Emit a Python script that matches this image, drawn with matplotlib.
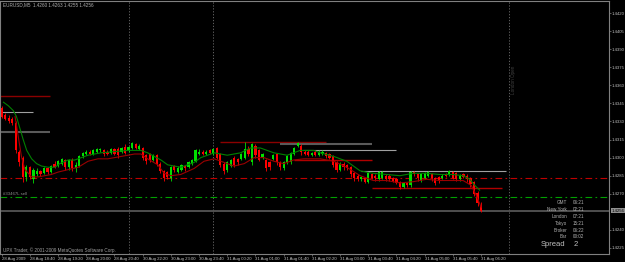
import matplotlib
matplotlib.use("Agg")
import matplotlib.pyplot as plt

plt.rcParams["font.family"] = ["Liberation Sans", "DejaVu Sans"]

# --- EURUSD M5 candles (bar 0 = 28 Aug 18:00) ---
opens = [1.4341, 1.4335, 1.4333, 1.4332, 1.4329, 1.4305, 1.4300, 1.4284, 1.4292, 1.4282,
         1.4286, 1.4289, 1.4287, 1.4291, 1.4288, 1.4295, 1.4293, 1.4295, 1.4298, 1.4292,
         1.4298, 1.4291, 1.4293, 1.4301, 1.4303, 1.4305, 1.4303, 1.4305, 1.4306, 1.4306,
         1.4305, 1.4304, 1.4307, 1.4307, 1.4305, 1.4309, 1.4306, 1.4308, 1.4311, 1.4307,
         1.4308, 1.4302, 1.4303, 1.4298, 1.4302, 1.4295, 1.4289, 1.4288, 1.4283, 1.4293,
         1.4288, 1.4290, 1.4293, 1.4292, 1.4295, 1.4297, 1.4303, 1.4305, 1.4303, 1.4306,
         1.4303, 1.4308, 1.4303, 1.4295, 1.4290, 1.4293, 1.4300, 1.4299, 1.4299, 1.4300,
         1.4307, 1.4296, 1.4310, 1.4306, 1.4300, 1.4298, 1.4296, 1.4299, 1.4303, 1.4296,
         1.4291, 1.4296, 1.4296, 1.4303, 1.4310, 1.4310, 1.4305, 1.4305, 1.4302, 1.4305,
         1.4302, 1.4303, 1.4304, 1.4303, 1.4301, 1.4296, 1.4290, 1.4295, 1.4294, 1.4292,
         1.4287, 1.4285, 1.4282, 1.4283, 1.4280, 1.4286, 1.4285, 1.4282, 1.4283, 1.4285,
         1.4285, 1.4283, 1.4282, 1.4280, 1.4276, 1.4279, 1.4277, 1.4288, 1.4286, 1.4281,
         1.4283, 1.4285, 1.4286, 1.4283, 1.4284, 1.4283, 1.4286, 1.4286, 1.4288, 1.4287,
         1.4282, 1.4286, 1.4285, 1.4283, 1.4280, 1.4271, 1.4260]
highs = [1.4343, 1.4337, 1.4335, 1.4334, 1.4330, 1.4306, 1.4301, 1.4294, 1.4293, 1.4291,
         1.4291, 1.4290, 1.4292, 1.4292, 1.4294, 1.4297, 1.4298, 1.4300, 1.4299, 1.4299,
         1.4300, 1.4296, 1.4302, 1.4305, 1.4306, 1.4306, 1.4307, 1.4308, 1.4308, 1.4307,
         1.4306, 1.4308, 1.4308, 1.4309, 1.4309, 1.4311, 1.4310, 1.4313, 1.4312, 1.4311,
         1.4309, 1.4303, 1.4304, 1.4303, 1.4303, 1.4296, 1.4290, 1.4289, 1.4293, 1.4294,
         1.4293, 1.4295, 1.4294, 1.4297, 1.4299, 1.4307, 1.4307, 1.4306, 1.4306, 1.4307,
         1.4308, 1.4309, 1.4304, 1.4296, 1.4297, 1.4299, 1.4301, 1.4300, 1.4304, 1.4313,
         1.4310, 1.4312, 1.4311, 1.4307, 1.4304, 1.4299, 1.4297, 1.4303, 1.4304, 1.4297,
         1.4297, 1.4302, 1.4305, 1.4309, 1.4313, 1.4311, 1.4306, 1.4306, 1.4305, 1.4306,
         1.4306, 1.4306, 1.4305, 1.4304, 1.4302, 1.4297, 1.4296, 1.4296, 1.4295, 1.4293,
         1.4288, 1.4286, 1.4285, 1.4284, 1.4288, 1.4287, 1.4286, 1.4289, 1.4289, 1.4286,
         1.4286, 1.4284, 1.4283, 1.4281, 1.4280, 1.4280, 1.4289, 1.4289, 1.4287, 1.4287,
         1.4288, 1.4289, 1.4287, 1.4284, 1.4285, 1.4286, 1.4287, 1.4290, 1.4289, 1.4288,
         1.4286, 1.4287, 1.4286, 1.4284, 1.4281, 1.4272, 1.4263]
lows = [1.4333, 1.4331, 1.4329, 1.4327, 1.4304, 1.4293, 1.4280, 1.4281, 1.4282, 1.4279,
        1.4285, 1.4285, 1.4286, 1.4286, 1.4287, 1.4291, 1.4292, 1.4294, 1.4290, 1.4290,
        1.4289, 1.4288, 1.4292, 1.4300, 1.4302, 1.4302, 1.4302, 1.4304, 1.4305, 1.4301,
        1.4302, 1.4303, 1.4302, 1.4300, 1.4304, 1.4303, 1.4305, 1.4307, 1.4307, 1.4306,
        1.4298, 1.4295, 1.4296, 1.4297, 1.4293, 1.4287, 1.4281, 1.4282, 1.4281, 1.4288,
        1.4287, 1.4289, 1.4289, 1.4291, 1.4294, 1.4296, 1.4302, 1.4302, 1.4302, 1.4303,
        1.4302, 1.4299, 1.4292, 1.4286, 1.4288, 1.4292, 1.4292, 1.4294, 1.4298, 1.4299,
        1.4301, 1.4294, 1.4300, 1.4297, 1.4299, 1.4289, 1.4290, 1.4298, 1.4294, 1.4290,
        1.4290, 1.4295, 1.4295, 1.4302, 1.4309, 1.4302, 1.4302, 1.4301, 1.4301, 1.4301,
        1.4301, 1.4302, 1.4300, 1.4299, 1.4292, 1.4288, 1.4289, 1.4290, 1.4290, 1.4284,
        1.4281, 1.4281, 1.4281, 1.4279, 1.4279, 1.4282, 1.4281, 1.4281, 1.4282, 1.4281,
        1.4281, 1.4280, 1.4278, 1.4274, 1.4275, 1.4276, 1.4276, 1.4285, 1.4281, 1.4280,
        1.4282, 1.4284, 1.4281, 1.4277, 1.4279, 1.4282, 1.4284, 1.4285, 1.4282, 1.4281,
        1.4281, 1.4283, 1.4280, 1.4276, 1.4268, 1.4260, 1.4255]
closes = [1.4334, 1.4332, 1.4330, 1.4329, 1.4306, 1.4296, 1.4284, 1.4292, 1.4284, 1.4290,
          1.4289, 1.4286, 1.4291, 1.4288, 1.4293, 1.4292, 1.4297, 1.4299, 1.4292, 1.4298,
          1.4291, 1.4294, 1.4301, 1.4304, 1.4305, 1.4303, 1.4306, 1.4307, 1.4307, 1.4303,
          1.4303, 1.4307, 1.4303, 1.4302, 1.4308, 1.4304, 1.4309, 1.4312, 1.4308, 1.4310,
          1.4300, 1.4297, 1.4298, 1.4302, 1.4295, 1.4289, 1.4283, 1.4284, 1.4292, 1.4290,
          1.4291, 1.4294, 1.4291, 1.4296, 1.4298, 1.4306, 1.4305, 1.4303, 1.4305, 1.4304,
          1.4307, 1.4300, 1.4294, 1.4289, 1.4296, 1.4298, 1.4294, 1.4296, 1.4303, 1.4307,
          1.4303, 1.4311, 1.4302, 1.4298, 1.4303, 1.4291, 1.4292, 1.4302, 1.4296, 1.4292,
          1.4296, 1.4301, 1.4304, 1.4308, 1.4312, 1.4305, 1.4303, 1.4302, 1.4304, 1.4302,
          1.4305, 1.4305, 1.4301, 1.4300, 1.4294, 1.4290, 1.4295, 1.4292, 1.4291, 1.4286,
          1.4283, 1.4282, 1.4284, 1.4280, 1.4287, 1.4283, 1.4283, 1.4288, 1.4288, 1.4282,
          1.4282, 1.4281, 1.4279, 1.4276, 1.4279, 1.4277, 1.4288, 1.4286, 1.4283, 1.4286,
          1.4287, 1.4288, 1.4283, 1.4279, 1.4281, 1.4285, 1.4285, 1.4289, 1.4283, 1.4282,
          1.4285, 1.4284, 1.4282, 1.4278, 1.4270, 1.4262, 1.4256]

# moving averages (bar position, price)
ma_green_x = [0.5, 1.9, 3.3, 4.2, 5.2, 6.1, 7.1, 8.5, 9.9, 11.3, 13.2, 15.1, 16.5, 18.8,
              20.7, 22.6, 24.5, 28.2, 32, 35.8, 37.7, 39.5, 41.4, 43.3, 45.2, 47.1, 49,
              50.8, 52.7, 54.6, 56.5, 60.3, 64, 67.8, 70.6, 73.4, 77.2, 81, 84.7, 88.5,
              90.4, 94.2, 97.9, 101.7, 105.4, 109.2, 113, 116.7, 120.5, 124.3, 128,
              130.9, 132.8, 134.2, 135.6]
ma_green_y = [1.4346, 1.4343, 1.4339, 1.4334, 1.4324, 1.4315, 1.4306, 1.4299, 1.4295,
              1.4293, 1.4292, 1.4292, 1.4295, 1.4298, 1.4298, 1.4300, 1.4302, 1.4304,
              1.4305, 1.4306, 1.4306, 1.4306, 1.4304, 1.4301, 1.4298, 1.4294, 1.4293,
              1.4292, 1.4294, 1.4296, 1.4300, 1.4304, 1.4302, 1.4304, 1.4308, 1.4308,
              1.4304, 1.4302, 1.4306, 1.4306, 1.4304, 1.4301, 1.4297, 1.4289, 1.4287,
              1.4286, 1.4285, 1.4287, 1.4287, 1.4286, 1.4286, 1.4285, 1.4282, 1.4277,
              1.4273]
ma_red_x = [3.8, 5.6, 6.6, 8.5, 10.4, 12.2, 14.1, 16, 18.8, 21.7, 24.5, 27.3, 30.1, 33.9,
            37.7, 39.5, 41.4, 44.3, 46.1, 48, 50.8, 54.6, 57.4, 60.3, 63.1, 65.9, 68.8,
            71.6, 74.4, 77.2, 80, 82.8, 85.7, 89.5, 90.4, 94.2, 97.9, 101.7, 105.4,
            109.2, 113, 116.7, 120.5, 124.3, 128, 130.9, 133.2, 134.6, 136]
ma_red_y = [1.4334, 1.4301, 1.4290, 1.4284, 1.4284, 1.4285, 1.4286, 1.4288, 1.4290,
            1.4292, 1.4297, 1.4299, 1.4299, 1.4301, 1.4303, 1.4303, 1.4299, 1.4294,
            1.4287, 1.4285, 1.4286, 1.4291, 1.4297, 1.4299, 1.4296, 1.4293, 1.4295,
            1.4300, 1.4300, 1.4297, 1.4295, 1.4298, 1.4299, 1.4299, 1.4299, 1.4297,
            1.4292, 1.4285, 1.4281, 1.4281, 1.4279, 1.4280, 1.4282, 1.4281, 1.4281,
            1.4281, 1.4277, 1.4269, 1.4259]

# horizontal objects: (start bar, end bar, price, color, width)
segments = [(-0.5, 13.7, 1.4351, "#8b0000", 1.0),
            (-0.5, 8.9, 1.4338, "#a0a0a0", 0.8),
            (-0.5, 13.7, 1.4321, "#5a5a5a", 1.5),
            (62, 92, 1.4313, "#8b0000", 1.0),
            (79, 105, 1.4311, "#5a5a5a", 1.5),
            (85.5, 112, 1.4306, "#a0a0a0", 0.8),
            (83, 105, 1.4298, "#b00000", 1.0),
            (102, 143, 1.4289, "#a0a0a0", 0.8),
            (105, 142, 1.4275, "#b00000", 1.0)]
level_red = 1.4283
level_green = 1.4267
bid = 1.4256
separators = [36, 60, 144]

tick_bars = [0, 8, 16, 24, 32, 40, 48, 56, 64, 72, 80, 88, 96, 104, 112, 120, 128, 136]
tick_labels = ["28 Aug 2009", "28 Aug 18:40", "28 Aug 19:20", "28 Aug 20:00",
               "28 Aug 20:40", "30 Aug 22:20", "30 Aug 23:00", "30 Aug 23:40",
               "31 Aug 00:20", "31 Aug 01:00", "31 Aug 01:40", "31 Aug 02:20",
               "31 Aug 03:00", "31 Aug 03:40", "31 Aug 04:20", "31 Aug 05:00",
               "31 Aug 05:40", "31 Aug 06:20"]
price_ticks = [1.4420, 1.4405, 1.4390, 1.4375, 1.4360, 1.4345, 1.4330, 1.4315,
               1.4300, 1.4285, 1.4270, 1.4240, 1.4225]

info_labels = ["GMT", "New York", "London", "Tokyo", "Broker", "Bar"]
info_values = ["06:21", "02:21", "07:21", "15:21", "06:22", "00:02"]

W, H = 625, 262
fig = plt.figure(figsize=(W / 100, H / 100), dpi=100, facecolor="black")
ax = fig.add_axes([0, 0.0305, 0.9744, 0.9657], facecolor="black")

up_col, dn_col = "#00e000", "#ff0000"
for i, (o, h, l, c) in enumerate(zip(opens, highs, lows, closes)):
    col = up_col if c >= o else dn_col
    ax.vlines(i, l, h, color=col, lw=0.6, zorder=3)
    ax.bar(i, max(abs(c - o), 0.00004), bottom=min(o, c), width=0.62,
           color=col, edgecolor=col, lw=0, zorder=4)

ax.plot(ma_green_x, ma_green_y, color="#008000", lw=0.8, zorder=5)
ax.plot(ma_red_x, ma_red_y, color="#9a0000", lw=0.8, zorder=5)

for x0, x1, p, col, w in segments:
    ax.hlines(p, x0, x1, color=col, lw=w, zorder=2)

ax.axhline(level_red, color="#c00000", lw=0.8, ls=(0, (6, 3, 1.5, 3)), zorder=2)
ax.axhline(level_green, color="#00a000", lw=0.8, ls=(0, (6, 3, 1.5, 3)), zorder=2)
ax.axhline(bid, color="#555555", lw=1.3, zorder=2)
for s in separators:
    ax.axvline(s, color="#707070", lw=0.6, ls=(0, (1.5, 2)), zorder=1)

ax.set_xlim(-0.48, 172.3)
ax.set_ylim(1.4220, 1.4430)

ax.set_xticks(tick_bars)
ax.set_xticklabels(tick_labels)
for lbl in ax.get_xticklabels():
    lbl.set_ha("left")
ax.tick_params(axis="x", colors="#808080", labelcolor="#c0c0c0", labelsize=3.1,
               length=1.5, width=0.5, pad=0.8)
ax.yaxis.tick_right()
ax.set_yticks(price_ticks)
ax.set_yticklabels(["%.4f" % p for p in price_ticks])
ax.tick_params(axis="y", colors="#808080", labelcolor="#c0c0c0", labelsize=3.1,
               length=1.2, width=0.5, pad=0.8)
for sp in ax.spines.values():
    sp.set_color("#808080")
    sp.set_linewidth(0.8)

ax.text(1.004, bid, "1.4256", transform=ax.get_yaxis_transform(), fontsize=3.1,
        color="black", va="center", ha="left",
        bbox=dict(boxstyle="square,pad=0.2", fc="#909090", ec="none"))

def px(x, y):
    return x / W, 1 - y / H

fig.text(*px(3, 5), "EURUSD,M5  1.4260 1.4263 1.4255 1.4256", fontsize=3.3,
         color="#b0b0b0", va="center")
fig.text(*px(3, 250), "UPX Trader, \u00a9 2001-2009 MetaQuotes Software Corp.",
         fontsize=3.3, color="#a0a0a0", va="center")
fig.text(*px(3, 194), "#33467L sell", fontsize=3.1, color="#909090", va="center")
fig.text(*px(513, 80), "London Open", fontsize=3.3, color="#404040", va="center",
         ha="center", rotation=90)

for k, (lab, val) in enumerate(zip(info_labels, info_values)):
    y = 203 + 6.8 * k
    fig.text(*px(567, y), lab, fontsize=3.3, color="#b0b0b0", va="center", ha="right")
    fig.text(*px(573, y), val, fontsize=3.3, color="#b0b0b0", va="center", ha="left")
fig.text(*px(565, 244), "Spread", fontsize=5.5, color="#c0c0c0", va="center", ha="right")
fig.text(*px(574, 244), "2", fontsize=5.5, color="#c0c0c0", va="center", ha="left")

fig.savefig("out.png", dpi=100, facecolor="black")
